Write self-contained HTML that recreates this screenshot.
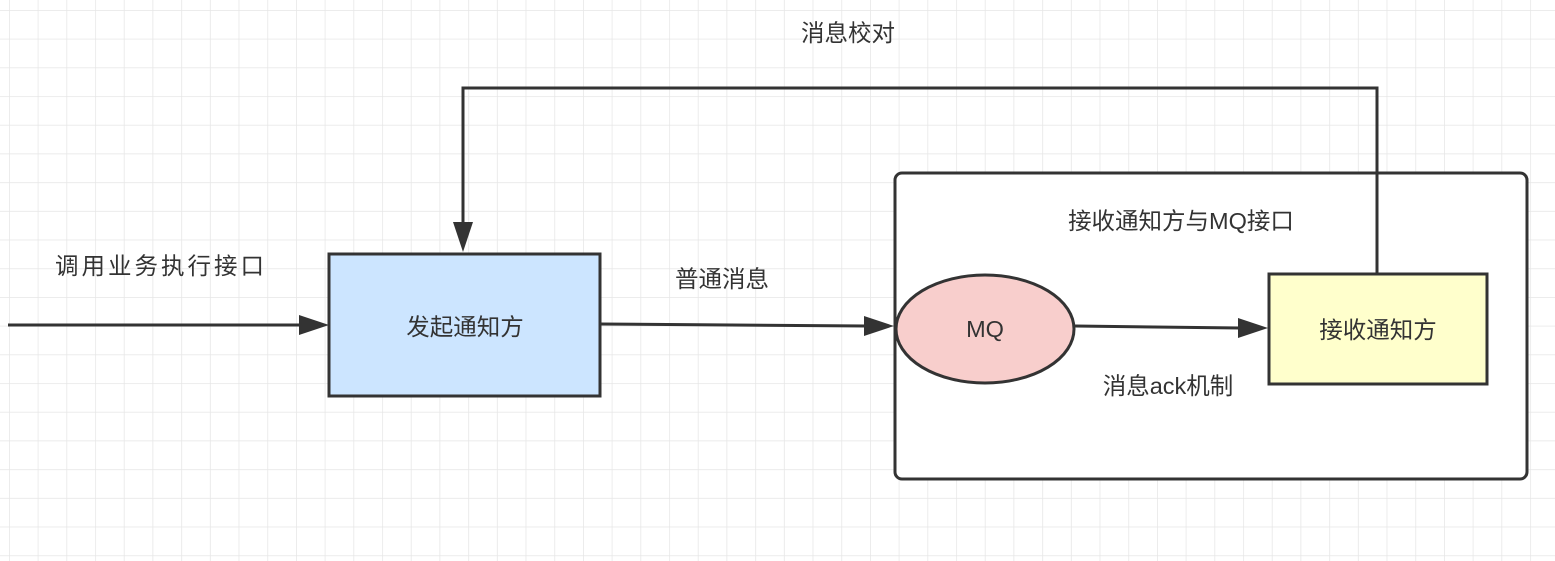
<!DOCTYPE html>
<html><head><meta charset="utf-8"><style>
html,body{margin:0;padding:0;background:#fff;}
svg{display:block;}
text{font-family:"Liberation Sans","Noto Sans CJK SC",sans-serif;fill:#333;font-size:23.5px;}
</style></head><body>
<svg width="1555" height="561" viewBox="0 0 1555 561" xmlns="http://www.w3.org/2000/svg">
<defs>
<pattern id="g" x="9" y="10" width="28.7" height="28.7" patternUnits="userSpaceOnUse">
<path d="M0 0H28.7M0 0V28.7" stroke="#e6e6e6" stroke-width="1.5" fill="none"/>
</pattern>
</defs>
<rect width="1555" height="561" fill="#fff"/>
<rect width="1555" height="561" fill="url(#g)"/>
<rect x="895" y="173" width="632" height="306" rx="7" fill="#fff" stroke="#333" stroke-width="3"/>
<line x1="8" y1="325" x2="300" y2="325" stroke="#333" stroke-width="3"/>
<path d="M299 315L329 325L299 335Z" fill="#333"/>
<rect x="329" y="254" width="271" height="142" fill="#cce5ff" stroke="#333" stroke-width="3"/>
<text x="465" y="335" text-anchor="middle">发起通知方</text>
<line x1="600" y1="324" x2="866" y2="326" stroke="#333" stroke-width="3"/>
<path d="M864 316L894 326L864 336Z" fill="#333"/>
<ellipse cx="985" cy="329" rx="89" ry="54" fill="#f8cecc" stroke="#333" stroke-width="3"/>
<text x="985" y="337" text-anchor="middle">MQ</text>
<line x1="1075" y1="326" x2="1240" y2="328" stroke="#333" stroke-width="3"/>
<path d="M1238 318L1268 328L1238 338Z" fill="#333"/>
<rect x="1269" y="274" width="218" height="110" fill="#ffffcc" stroke="#333" stroke-width="3"/>
<text x="1378" y="338" text-anchor="middle">接收通知方</text>
<polyline points="1377,274 1377,88 463,88 463,224" fill="none" stroke="#333" stroke-width="3"/>
<path d="M453 222L463 252L473 222Z" fill="#333"/>
<text x="848" y="41" text-anchor="middle">消息校对</text>
<text x="55" y="274" letter-spacing="3">调用业务执行接口</text>
<text x="722" y="287" text-anchor="middle">普通消息</text>
<text x="1181" y="229" text-anchor="middle">接收通知方与MQ接口</text>
<text x="1168" y="394" text-anchor="middle">消息ack机制</text>
</svg>
</body></html>
